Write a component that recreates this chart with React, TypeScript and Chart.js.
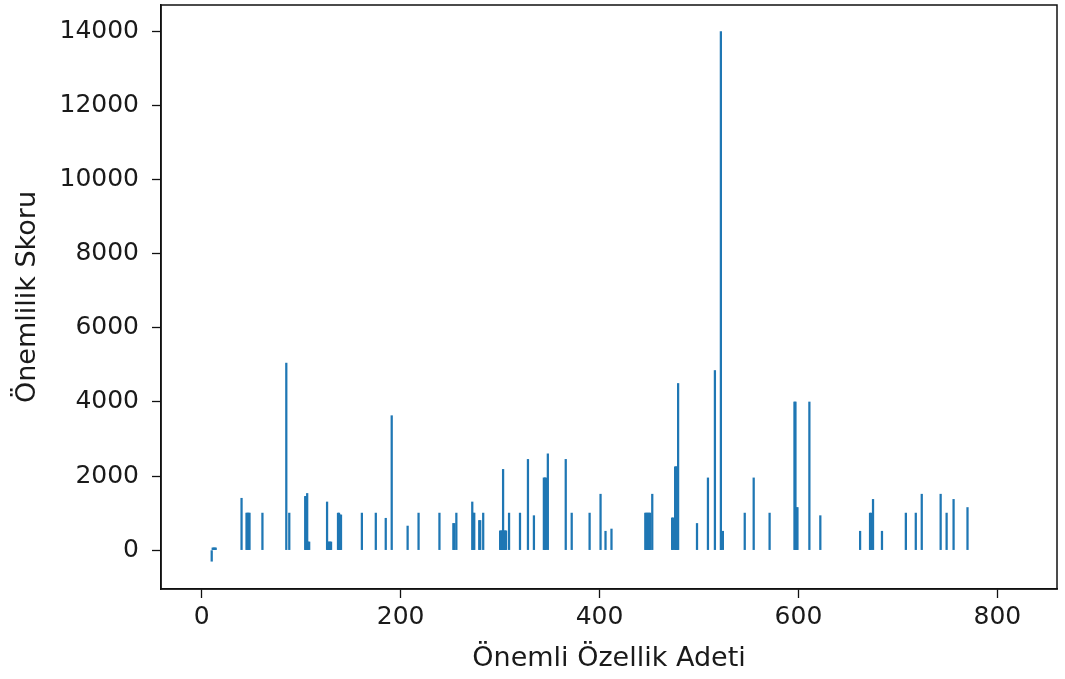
import React, { useEffect, useRef } from "react";
import { Chart, registerables } from "chart.js";

Chart.register(...registerables);

// Feature index (x) and importance score (y) for every non-zero bar
const featureIdx = [
  10, 11, 12, 13, 14,
  40, 45, 46, 47, 48, 61, 85, 88,
  104, 105, 106, 107, 108,
  126, 127, 128, 129, 130,
  137, 138, 139, 140,
  161, 175, 185, 191, 207, 218, 239,
  253, 254, 256, 272, 273, 274, 279, 280, 283,
  300, 301, 302, 303, 304, 305, 306, 309,
  320, 328, 334, 344, 345, 346, 348,
  366, 372, 390, 401, 406, 412,
  446, 447, 448, 449, 450, 451, 453,
  473, 474, 476, 477, 478, 479,
  498, 509, 516, 522, 524, 546, 555, 571,
  596, 597, 598, 599, 611, 622,
  662, 672, 673, 675, 684,
  708, 718, 724, 743, 749, 756, 770,
];

const scores = [
  -300, 60, 60, 60, 60,
  1400, 1000, 1000, 1000, 1000, 1000, 5050, 1000,
  1450, 1450, 1530, 220, 220,
  1300, 220, 220, 220, 220,
  1000, 1000, 950, 950,
  1000, 1000, 860, 3630, 650, 1000, 1000,
  720, 720, 1000, 1300, 1000, 1000, 800, 800, 1000,
  520, 520, 520, 2180, 520, 520, 520, 1000,
  1000, 2450, 930, 1950, 1950, 1950, 2600,
  2450, 1000, 1000, 1510, 510, 570,
  1000, 1000, 1000, 1000, 1000, 1000, 1510,
  870, 870, 2250, 2250, 2250, 4500,
  720, 1950, 4850, 14000, 510, 1000, 1950, 1000,
  4000, 4000, 1150, 1150, 4000, 930,
  510, 1000, 1000, 1370, 510,
  1000, 1000, 1510, 1510, 1000, 1370, 1150,
];

const xTicks = [0, 200, 400, 600, 800];
const yTicks = [0, 2000, 4000, 6000, 8000, 10000, 12000, 14000];

const xTitle = "Önemli Özellik Adeti";
const yTitle = "Önemlilik Skoru";

const FONT = "'DejaVu Sans', sans-serif";

export default function App() {
  const ref = useRef<HTMLCanvasElement>(null);

  useEffect(() => {
    const framePlugin = {
      id: "frame",
      afterDraw(chart: any) {
        const { ctx, chartArea: a } = chart;
        ctx.save();
        ctx.strokeStyle = "#111";
        ctx.lineWidth = 1.5;
        ctx.strokeRect(a.left, a.top, a.right - a.left, a.bottom - a.top);
        ctx.restore();
      },
    };

    const chart = new Chart(ref.current as HTMLCanvasElement, {
      type: "bar",
      data: {
        datasets: [
          {
            data: featureIdx.map((x, i) => ({ x, y: scores[i] })),
            backgroundColor: "#1f77b4",
            barThickness: 1.6,
          },
        ],
      },
      options: {
        animation: false,
        responsive: false,
        maintainAspectRatio: false,
        layout: { padding: { left: 0, right: 8, top: 5, bottom: 0 } },
        plugins: {
          legend: { display: false },
          tooltip: { enabled: false },
        },
        scales: {
          x: {
            type: "linear",
            min: -41,
            max: 860,
            offset: false,
            afterBuildTicks: (s: any) => {
              s.ticks = xTicks.map((v) => ({ value: v }));
            },
            afterFit: (s: any) => {
              s.height = 90;
              s.paddingLeft = 0;
              s.paddingRight = 0;
            },
            grid: {
              display: true,
              drawOnChartArea: false,
              drawTicks: true,
              tickLength: 9,
              tickWidth: 1.3,
              color: "#111",
              offset: false,
            },
            border: { color: "#111", width: 1.5 },
            ticks: {
              color: "#1a1a1a",
              font: { family: FONT, size: 25 },
              padding: 4,
              maxRotation: 0,
              callback: (v: any) => String(v),
            },
            title: {
              display: true,
              text: xTitle,
              color: "#1a1a1a",
              font: { family: FONT, size: 27 },
              padding: { top: 0, bottom: 4 },
            },
          },
          y: {
            type: "linear",
            min: -1050,
            max: 14720,
            afterBuildTicks: (s: any) => {
              s.ticks = yTicks.map((v) => ({ value: v }));
            },
            afterFit: (s: any) => {
              s.width = 161;
              s.paddingTop = 0;
              s.paddingBottom = 0;
            },
            grid: {
              display: true,
              drawOnChartArea: false,
              drawTicks: true,
              tickLength: 9,
              tickWidth: 1.3,
              color: "#111",
            },
            border: { color: "#111", width: 1.5 },
            ticks: {
              color: "#1a1a1a",
              font: { family: FONT, size: 25 },
              padding: 13,
              callback: (v: any) => String(v),
            },
            title: {
              display: true,
              text: yTitle,
              color: "#1a1a1a",
              font: { family: FONT, size: 27 },
              padding: { top: 12, bottom: 0 },
            },
          },
        },
      },
      plugins: [framePlugin],
    } as any);

    return () => chart.destroy();
  }, []);

  return (
    <div
      style={{
        position: "fixed",
        left: 0,
        top: 0,
        width: 1065,
        height: 679,
        background: "#fff",
      }}
    >
      <canvas ref={ref} width={1065} height={679} style={{ display: "block" }} />
    </div>
  );
}
